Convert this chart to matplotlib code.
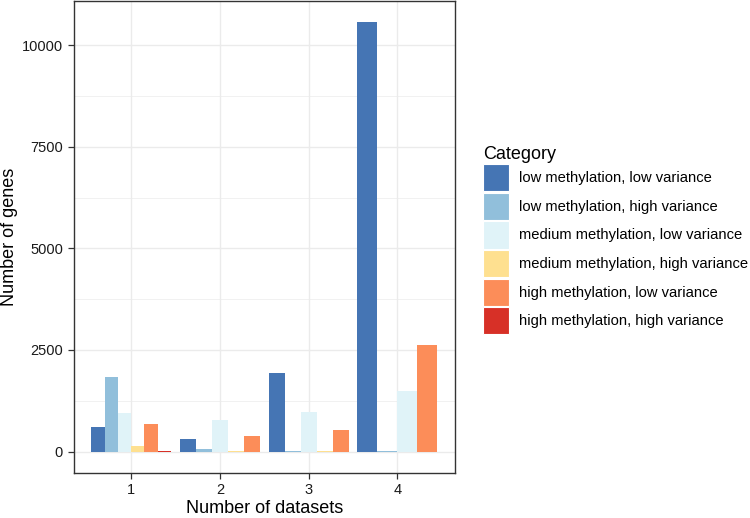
import matplotlib
matplotlib.use("Agg")
import matplotlib.pyplot as plt
from matplotlib.patches import Patch
from matplotlib.ticker import MultipleLocator

plt.rcParams['font.family'] = ['Liberation Sans', 'DejaVu Sans']

categories = ["low methylation, low variance", "low methylation, high variance",
              "medium methylation, low variance", "medium methylation, high variance",
              "high methylation, low variance", "high methylation, high variance"]
colors = ["#4575B4", "#91BFDB", "#E0F3F8", "#FEE090", "#FC8D59", "#D73027"]
groups = [1, 2, 3, 4]
# values per group, None = category absent in that group
values = {
    1: [605, 1830, 955, 140, 680, 20],
    2: [310, 65, 775, 10, 385, None],
    3: [1930, 25, 965, 5, 520, None],
    4: [10560, 10, 1490, None, 2630, None],
}

fig = plt.figure(figsize=(7.5, 5.18), dpi=100)
ax = fig.add_axes([73.5/750, (518-473)/518, (455-73.5)/750, (473-1)/518])

total_w = 0.9
for g in groups:
    present = [(i, v) for i, v in enumerate(values[g]) if v is not None]
    n = len(present)
    w = total_w / n
    for k, (i, v) in enumerate(present):
        x = g - total_w/2 + w*(k + 0.5)
        ax.bar(x, v, width=w, color=colors[i], zorder=3, linewidth=0)

ymax = max(v for vals in values.values() for v in vals if v is not None)
ax.set_ylim(-0.05*ymax, ymax*1.05)
ax.set_xlim(0.35, 4.65)
ax.set_xticks(groups)
ax.yaxis.set_major_locator(MultipleLocator(2500))
ax.yaxis.set_minor_locator(MultipleLocator(1250))
ax.grid(True, which='major', color='#EBEBEB', linewidth=1.0, zorder=0)
ax.grid(True, which='minor', axis='y', color='#EBEBEB', linewidth=0.5, zorder=0)
ax.set_axisbelow(True)
for s in ax.spines.values():
    s.set_color('#333333')
    s.set_linewidth(1.0)
ax.tick_params(axis='both', which='major', length=4, color='#333333', labelsize=10.5, labelcolor='#1A1A1A', width=0.9)
ax.tick_params(axis='both', which='minor', length=0)
ax.set_xlabel("Number of datasets", fontsize=13, labelpad=2)
ax.set_ylabel("Number of genes", fontsize=13, labelpad=3)

handles = [Patch(facecolor=c, edgecolor='white', linewidth=0.8) for c in colors]
leg = fig.legend(handles, categories, loc='upper left', bbox_to_anchor=(480/750, 1-143/518),
                 title="Category", frameon=False, fontsize=10.6, title_fontsize=13,
                 handlelength=1.8, handleheight=2.45, handletextpad=0.65, labelspacing=0.1,
                 borderaxespad=0, borderpad=0.2)
leg._legend_box.align = "left"

fig.savefig("out.png", dpi=100)
